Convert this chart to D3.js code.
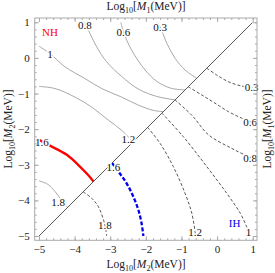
<!DOCTYPE html>
<html>
<head>
<meta charset="utf-8">
<script src="https://cdn.jsdelivr.net/npm/d3@7"></script>
<style>
body { margin: 0; background: #fff; }
text { font-family: "Liberation Serif", "DejaVu Serif", serif; }
</style>
</head>
<body>
<div id="main"></div>
<script>
// size of the page and of the frame
const width = 275;
const height = 273;

// tick values
const majorTicks = [-5, -4, -3, -2, -1, 0, 1];
const minorTicks = d3.range(-5, 1.001, 0.2).map(d => +d.toFixed(1));

// NH contours (upper triangle, solid)
const nh03 = [[-1.69, 1], [-1.60, 0.87], [-1.41, 0.41], [-1.18, -0.01], [-0.90, -0.34], [-0.57, -0.57]];
const nh06 = [[-2.70, 1], [-2.63, 0.73], [-2.40, 0.22], [-2.02, -0.34], [-1.69, -0.66], [-1.30, -0.85], [-0.90, -0.90]];
const nh08 = [[-3.72, 1], [-3.57, 0.69], [-3.38, 0.31], [-3.10, -0.11], [-2.68, -0.52], [-2.20, -0.88], [-1.70, -1.08], [-1.18, -1.18]];
const nh1 = [[-5, 0.33], [-4.69, 0.12], [-4.27, -0.25], [-3.71, -0.58], [-3.24, -0.86], [-2.68, -1.10], [-2.20, -1.33], [-1.80, -1.47], [-1.51, -1.51]];
const nh12 = [[-5, -0.80], [-4.55, -0.86], [-3.99, -1.10], [-3.52, -1.38], [-3.05, -1.75], [-2.68, -2.03], [-2.36, -2.36]];
const nh16 = [[-5, -2.30], [-4.74, -2.44], [-4.22, -2.72], [-3.85, -3.05], [-3.62, -3.29], [-3.47, -3.47]];
const nh18 = [[-5, -3.45], [-4.75, -3.55], [-4.55, -3.75], [-4.38, -3.98], [-4.20, -4.20]];

// IH contours (lower triangle, dashed)
const ih03 = [[-0.29, -0.29], [-0.01, -0.48], [0.32, -0.67], [0.69, -0.79], [1, -0.83]];
const ih06 = [[-0.81, -0.81], [-0.43, -1.04], [-0.06, -1.27], [0.32, -1.51], [0.69, -1.69], [1, -1.81]];
const ih08 = [[-1.18, -1.18], [-0.70, -1.62], [-0.24, -2.16], [0.41, -2.54], [0.88, -2.77], [1, -2.82]];
const ih1 = [[-1.55, -1.55], [-0.95, -2.21], [-0.29, -3.05], [0.27, -3.80], [0.65, -4.36], [0.83, -4.74], [0.93, -5]];
const ih12 = [[-1.95, -1.95], [-1.60, -2.40], [-1.23, -3.05], [-0.90, -3.80], [-0.71, -4.36], [-0.60, -5]];
const ih16 = [[-2.95, -2.95], [-2.77, -3.19], [-2.54, -3.52], [-2.35, -3.90], [-2.21, -4.27], [-2.12, -4.64], [-2.07, -5]];
const ih18 = [[-3.76, -3.76], [-3.52, -3.94], [-3.33, -4.18], [-3.15, -4.69], [-3.10, -5]];

// contour labels: text, x, y
const nhLabels = [["0.3", -1.60, 0.87], ["0.6", -2.63, 0.73], ["0.8", -3.71, 0.92], ["1", -4.69, 0.12],
                  ["1.2", -2.49, -2.28], ["1.6", -4.92, -2.37], ["1.8", -4.46, -4.05]];
const ihLabels = [["0.3", 0.97, -0.82], ["0.6", 0.93, -1.79], ["0.8", 0.93, -2.80], ["1", 0.88, -4.88],
                  ["1.2", -0.62, -4.88], ["1.6", -2.91, -3.05], ["1.8", -3.15, -4.69]];

const svg = d3.select('#main')
              .append('svg')
              .attr('width', width)
              .attr('height', height);

// scales, with the small padding round the -5..1 range
const xScale = d3.scaleLinear().domain([-5.12, 1.12]).range([34.7, 257]);
const yScale = d3.scaleLinear().domain([-5.12, 1.12]).range([240.3, 18]);

svg.append('defs').append('clipPath').attr('id', 'clip')
   .append('rect')
   .attr('x', xScale(-5)).attr('y', yScale(1))
   .attr('width', xScale(1) - xScale(-5)).attr('height', yScale(-5) - yScale(1));

const line = d3.line()
               .x(d => xScale(d[0]))
               .y(d => yScale(d[1]))
               .curve(d3.curveCatmullRom.alpha(0.5));

const plot = svg.append('g').attr('clip-path', 'url(#clip)');

// solid NH contours
[nh03, nh06, nh08, nh1, nh12, nh18].forEach(c => {
  plot.append('path').attr('d', line(c))
      .attr('fill', 'none').attr('stroke', '#a8a8a8').attr('stroke-width', 1);
});
// dashed IH contours
[ih03, ih06, ih08, ih1, ih12, ih18].forEach(c => {
  plot.append('path').attr('d', line(c))
      .attr('fill', 'none').attr('stroke', '#444').attr('stroke-width', 0.9)
      .attr('stroke-dasharray', '3,2');
});
// highlighted 1.6 contours
plot.append('path').attr('d', line(nh16))
    .attr('fill', 'none').attr('stroke', '#ff0000').attr('stroke-width', 2.3);
plot.append('path').attr('d', line(ih16))
    .attr('fill', 'none').attr('stroke', '#0000ee').attr('stroke-width', 2.3)
    .attr('stroke-dasharray', '4,2');

// diagonal M1 = M2
plot.append('path').attr('d', line([[-5, -5], [1, 1]]))
    .attr('fill', 'none').attr('stroke', '#555').attr('stroke-width', 1);

// contour labels
svg.selectAll('text.clab')
   .data(nhLabels.concat(ihLabels))
   .enter().append('text')
   .attr('class', 'clab')
   .attr('x', d => xScale(d[1]))
   .attr('y', d => yScale(d[2]) + 4)
   .attr('text-anchor', 'middle')
   .attr('font-size', 11)
   .attr('fill', '#111')
   .attr('stroke', '#fff').attr('stroke-width', 3).attr('paint-order', 'stroke')
   .text(d => d[0]);

svg.append('text').attr('x', xScale(-4.69)).attr('y', yScale(0.73) + 4)
   .attr('text-anchor', 'middle').attr('font-size', 11).attr('fill', '#f00').text('NH');
svg.append('text').attr('x', xScale(0.49)).attr('y', yScale(-4.64) + 4)
   .attr('text-anchor', 'middle').attr('font-size', 11).attr('fill', '#0000ee').text('IH');

// frame
const x0 = 34.7, x1 = 257, y0 = 18, y1 = 240.3;
svg.append('rect').attr('x', x0).attr('y', y0)
   .attr('width', x1 - x0).attr('height', y1 - y0)
   .attr('fill', 'none').attr('stroke', '#aaa').attr('stroke-width', 1);

const fmt = d => d < 0 ? '\u2212' + Math.abs(d) : '' + d;

function frameTicks(axisFn, scale, tx, ty, withLabels) {
  const gMinor = svg.append('g').attr('transform', 'translate(' + tx + ',' + ty + ')')
     .call(axisFn(scale).tickValues(minorTicks).tickSize(-2).tickFormat(''));
  const gMajor = svg.append('g').attr('transform', 'translate(' + tx + ',' + ty + ')')
     .call(axisFn(scale).tickValues(majorTicks).tickSize(-4).tickPadding(5)
           .tickFormat(withLabels ? fmt : ''));
  [gMinor, gMajor].forEach(g => {
    g.select('.domain').remove();
    g.selectAll('line').attr('stroke', '#aaa');
    g.selectAll('text').attr('font-size', 11).attr('fill', '#222')
     .attr('font-family', '"Liberation Serif", serif');
  });
}
frameTicks(d3.axisLeft, yScale, x0, 0, true);
frameTicks(d3.axisBottom, xScale, 0, y1, true);
frameTicks(d3.axisTop, xScale, 0, y0, false);
frameTicks(d3.axisRight, yScale, x1, 0, false);

// axis titles
function title(m, tx, ty, rot) {
  const txt = svg.append('text')
     .attr('transform', 'translate(' + tx + ',' + ty + ') rotate(' + rot + ')')
     .attr('text-anchor', 'middle').attr('font-size', 11.5).attr('fill', '#222');
  txt.append('tspan').text('Log');
  txt.append('tspan').attr('font-size', 8).attr('dy', 3).text('10');
  txt.append('tspan').attr('dy', -3).text('[');
  txt.append('tspan').attr('font-style', 'italic').text('M');
  txt.append('tspan').attr('font-size', 8).attr('dy', 3).text(m);
  txt.append('tspan').attr('dy', -3).text('(MeV)]');
}
title('1', 146, 10, 0);
title('2', 146, 268, 0);
title('2', 12, 129, -90);
title('1', 271, 129, -90);
</script>
</body>
</html>
